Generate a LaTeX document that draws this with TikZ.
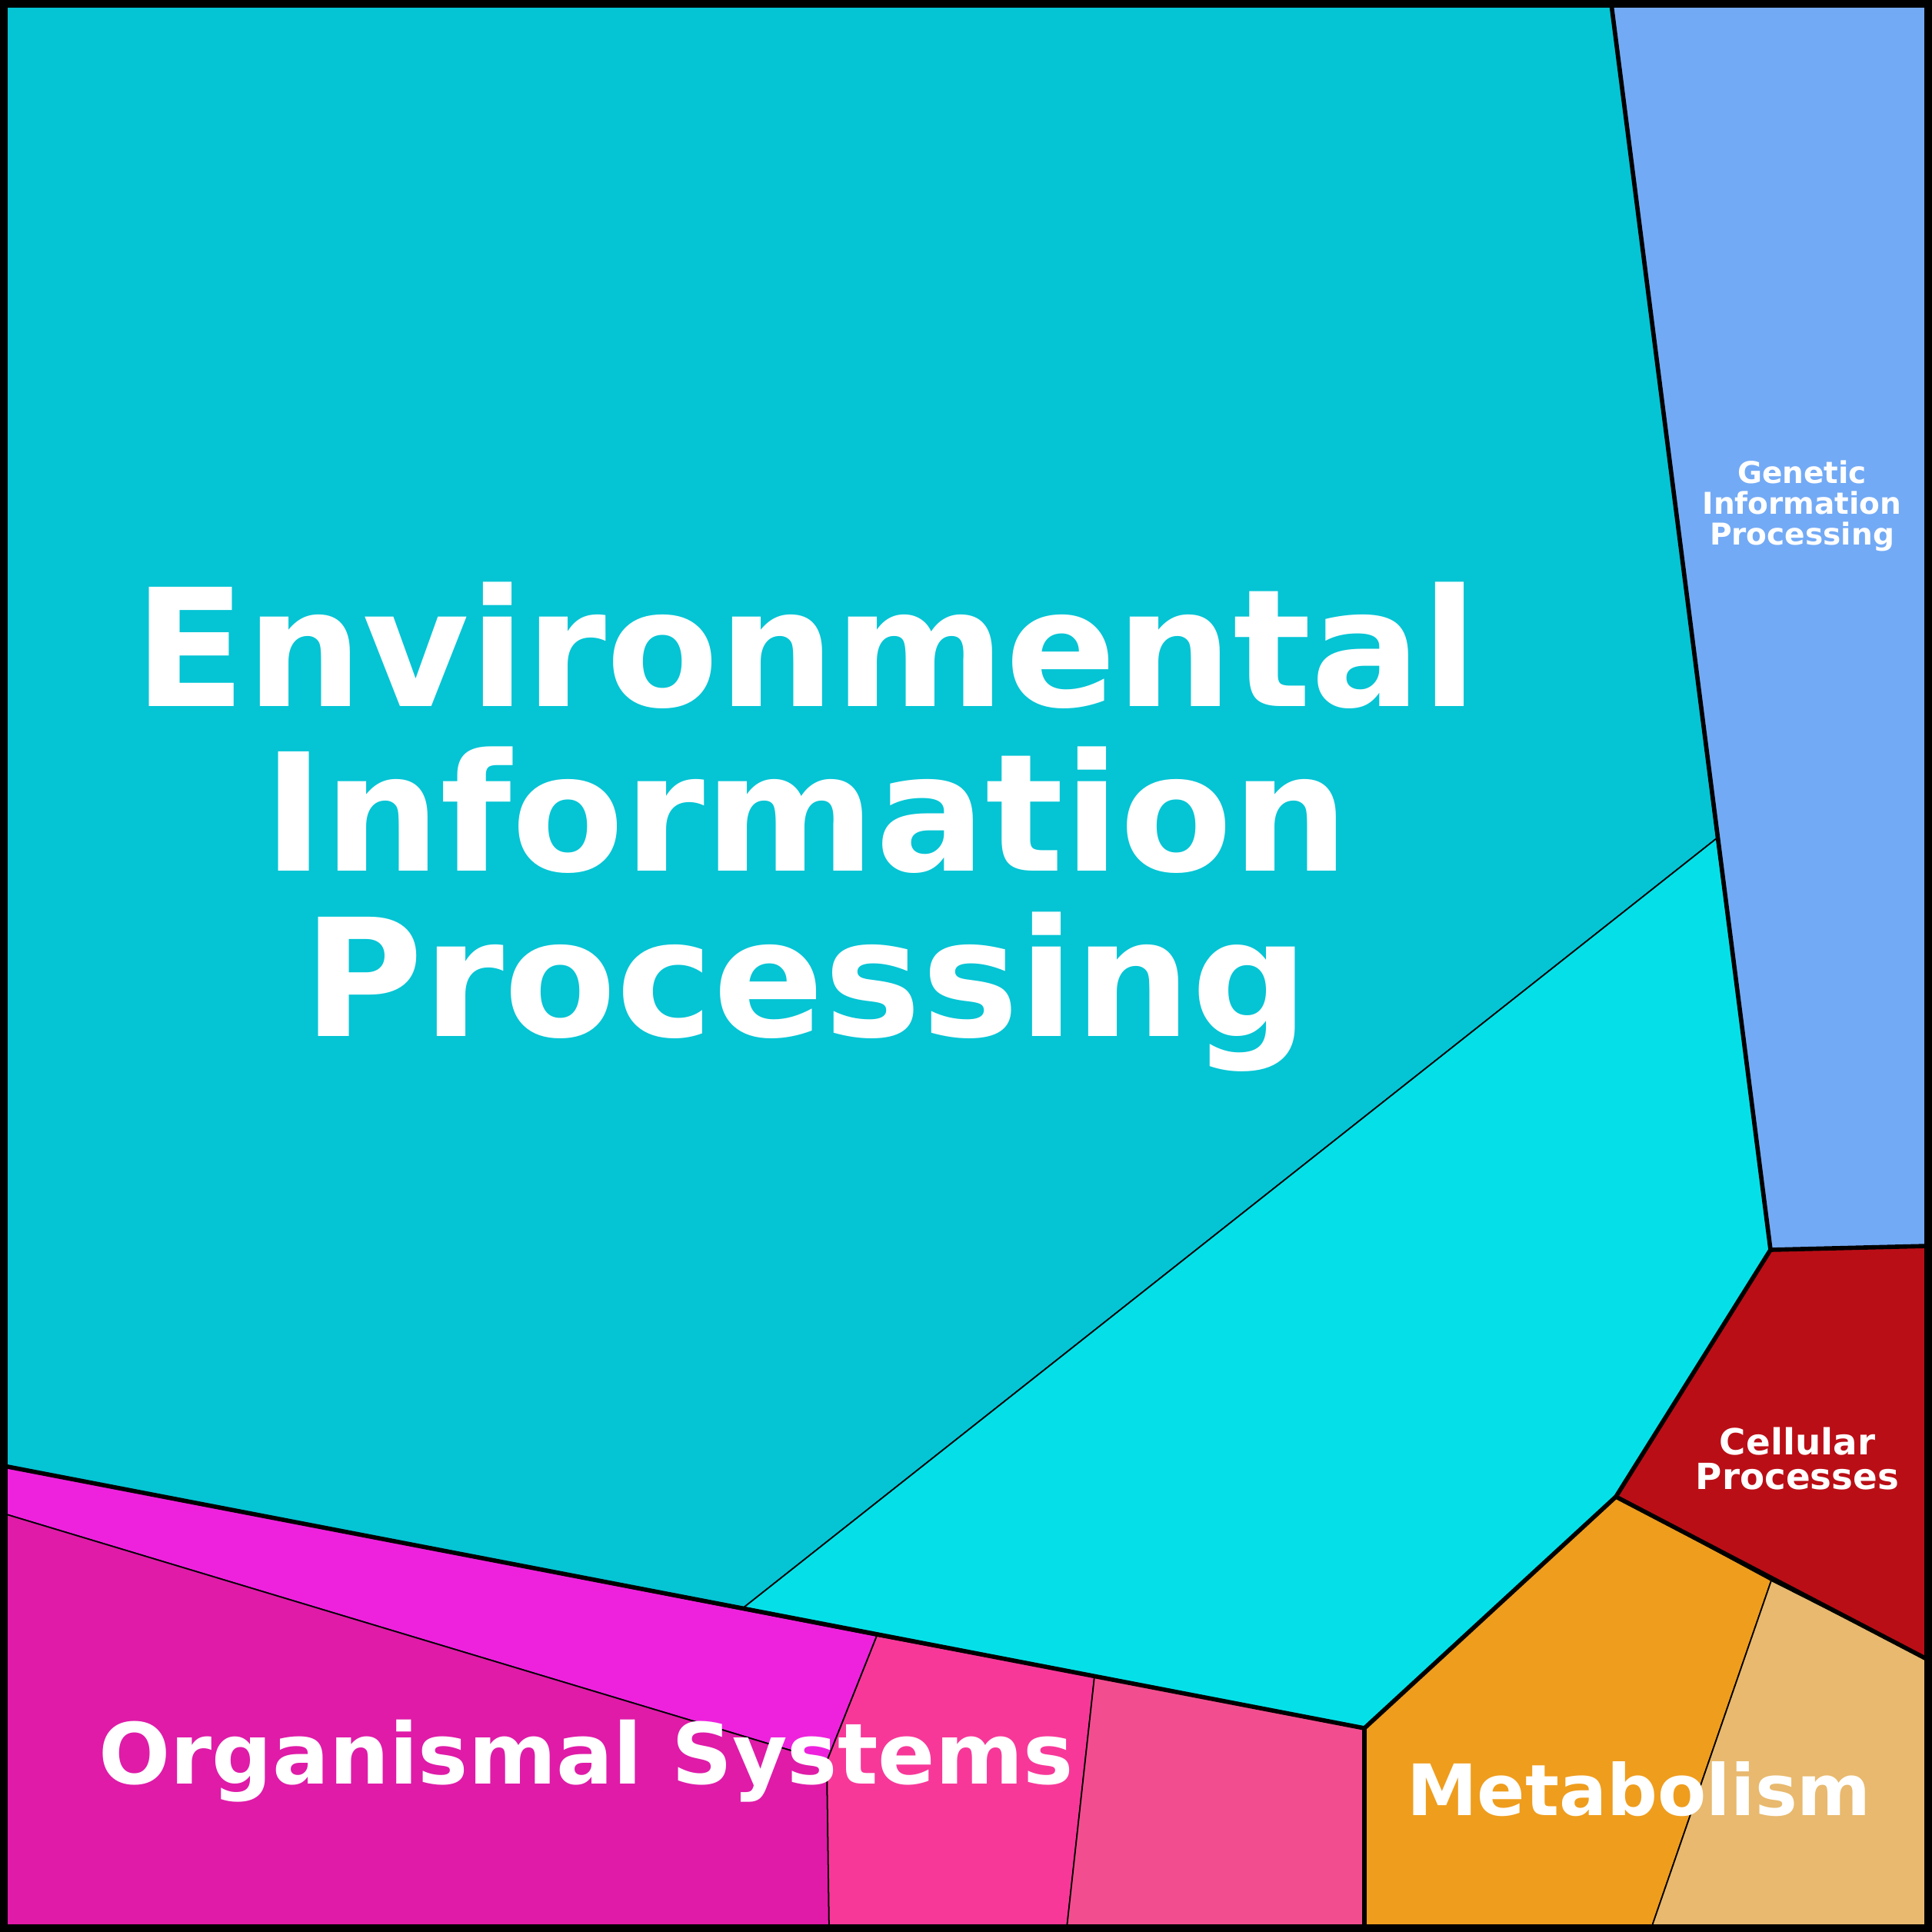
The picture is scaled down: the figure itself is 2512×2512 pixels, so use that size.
\documentclass[tikz,border=0pt]{standalone}
\usepackage{fontspec}
\setmainfont{DejaVu Sans}
\begin{document}
\begin{tikzpicture}[x=0.01cm,y=-0.01cm,
  cell/.style={draw=black,line width=0.5pt,line join=round},
  edge/.style={draw=black,line width=1.6pt,line join=round},
  lbl/.style={text=white,font=\bfseries,align=center,inner sep=0pt}]
\definecolor{envc}{HTML}{05C4D4}
\definecolor{envb}{HTML}{05E0E8}
\definecolor{genc}{HTML}{73AAF5}
\definecolor{celc}{HTML}{BA0E16}
\definecolor{meta}{HTML}{EF9D1D}
\definecolor{metb}{HTML}{E8B96E}
\definecolor{orga}{HTML}{EE22DD}
\definecolor{orgb}{HTML}{DF1BA8}
\definecolor{orgc}{HTML}{F73899}
\definecolor{orgd}{HTML}{F24E8F}
\useasboundingbox (0,0) rectangle (2512,2512);
% named corners of the cells
\coordinate (tl) at (5,5);
\coordinate (tr) at (2507,5);
\coordinate (br) at (2507,2507);
\coordinate (bl) at (5,2507);
\coordinate (gt) at (2095,5);
\coordinate (gm) at (2232,1090);
\coordinate (gb) at (2302,1625);
\coordinate (gr) at (2507,1620);
\coordinate (cl) at (2101,1946);
\coordinate (cr) at (2507,2158);
\coordinate (ml) at (1774,2247);
\coordinate (mb) at (1774,2507);
\coordinate (mm) at (2303,2055);
\coordinate (mn) at (2147,2507);
\coordinate (el) at (5,1906);
\coordinate (eb) at (967,2090);
\coordinate (oa) at (1140,2127);
\coordinate (ob) at (1423,2180);
\coordinate (oc) at (5,1968);
\coordinate (od) at (1075,2290);
\coordinate (oe) at (1078,2507);
\coordinate (of) at (1387,2507);
% cells
\filldraw[cell,fill=envc] (tl) -- (gt) -- (gm) -- (eb) -- (el) -- cycle;
\filldraw[cell,fill=envb] (gm) -- (gb) -- (cl) -- (ml) -- (eb) -- cycle;
\filldraw[cell,fill=genc] (gt) -- (tr) -- (gr) -- (gb) -- cycle;
\filldraw[cell,fill=celc] (gb) -- (gr) -- (cr) -- (cl) -- cycle;
\filldraw[cell,fill=meta] (ml) -- (cl) -- (mm) -- (mn) -- (mb) -- cycle;
\filldraw[cell,fill=metb] (mm) -- (cr) -- (br) -- (mn) -- cycle;
\filldraw[cell,fill=orga] (el) -- (oa) -- (od) -- (oc) -- cycle;
\filldraw[cell,fill=orgb] (oc) -- (od) -- (oe) -- (bl) -- cycle;
\filldraw[cell,fill=orgc] (oa) -- (ob) -- (of) -- (oe) -- (od) -- cycle;
\filldraw[cell,fill=orgd] (ob) -- (ml) -- (mb) -- (of) -- cycle;
% top level borders
\draw[edge] (gt) -- (gb) -- (gr);
\draw[edge] (gb) -- (cl) -- (cr);
\draw[edge] (el) -- (ml) -- (cl);
\draw[edge] (ml) -- (mb);
\draw[line width=2.8pt] (tl) rectangle (br);
% labels
\node[lbl,font=\bfseries\fontsize{60.5}{61}\selectfont] (env) at (1048,1075) {Environmental\\Information\\Processing};
\node[lbl,font=\bfseries\fontsize{11.1}{11.4}\selectfont] (gen) at (2343,658) {Genetic\\Information\\Processing};
\node[lbl,font=\bfseries\fontsize{13.3}{12.8}\selectfont] (cel) at (2337,1897) {Cellular\\Processes};
\node[lbl,font=\bfseries\fontsize{31.2}{31}\selectfont] (org) at (762,2290) {Organismal Systems};
\node[lbl,font=\bfseries\fontsize{26.2}{26}\selectfont] (met) at (2131,2326) {Metabolism};
\end{tikzpicture}
\end{document}
